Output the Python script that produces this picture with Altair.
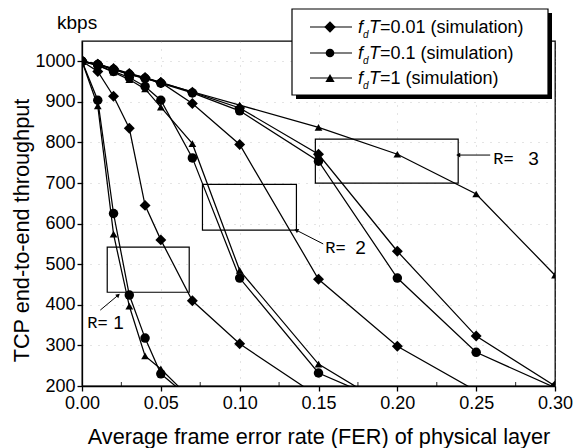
import altair as alt
import pandas as pd

# ---------------- data ----------------
X_FULL = [0, 0.01, 0.02, 0.03, 0.04, 0.05, 0.07, 0.10, 0.15, 0.20, 0.25, 0.30]

R1_D = [1000, 975, 914, 835, 645, 560, 410, 304, 174]
R1_C = [1000, 904, 625, 424, 318, 230, 165]
R1_T = [1000, 890, 574, 397, 274, 242, 165]
R2_D = [1000, 993, 980, 968, 958, 948, 896, 795, 463, 298, 188]
R2_C = [1000, 990, 975, 960, 938, 904, 762, 466, 232, 148]
R2_T = [1000, 990, 973, 955, 932, 887, 797, 485, 254, 137]
R3_D = [1000, 993, 982, 970, 960, 948, 924, 885, 771, 532, 323, 200]
R3_C = [1000, 992, 980, 968, 958, 946, 922, 878, 754, 466, 283, 196]
R3_T = [1000, 993, 981, 969, 959, 947, 925, 892, 837, 771, 673, 473]

SERIES = [
    ("1", "0.01", R1_D), ("1", "0.1", R1_C), ("1", "1", R1_T),
    ("2", "0.01", R2_D), ("2", "0.1", R2_C), ("2", "1", R2_T),
    ("3", "0.01", R3_D), ("3", "0.1", R3_C), ("3", "1", R3_T),
]
FDT = ["0.01", "0.1", "1"]
SHAPES = ["diamond", "circle", "triangle-up"]
MARK_SIZES = [120, 60, 75]

BOX_X1 = [0.016, 0.0764, 0.148]
BOX_X2 = [0.068, 0.136, 0.2386]
BOX_Y1 = [542, 697, 808]
BOX_Y2 = [431, 584, 700]

LBL_R_X = [0.0034, 0.1543, 0.2609]
LBL_NUM_X = [0.0198, 0.1733, 0.283]
LBL_Y = [355, 540, 759]
LBL_NUM = ["1", "2", "3"]

ARR_X1 = [0.0116, 0.153, 0.2589]
ARR_Y1 = [387, 550, 769]
ARR_X2 = [0.0230, 0.1359, 0.2386]
ARR_Y2 = [424, 584, 769]
ARR_ANG = [49, 298, 270]

X_TICKS = [0, 0.05, 0.10, 0.15, 0.20, 0.25, 0.30]
X_MINOR = [0.025, 0.075, 0.125, 0.175, 0.225, 0.275]
Y_TICKS = [200, 300, 400, 500, 600, 700, 800, 900, 1000]

LEG_LABELS = ["=0.01 (simulation)", "=0.1 (simulation)", "=1 (simulation)"]

# ---------------- tables ----------------
rows = []
for r, f, ys in SERIES:
    for x, y in zip(X_FULL, ys):
        rows.append({"x": x, "y": y, "R": r, "fdT": f, "key": r + "_" + f})
df = pd.DataFrame(rows)

boxes = pd.DataFrame({"x1": BOX_X1, "x2": BOX_X2, "y1": BOX_Y1, "y2": BOX_Y2})
labels = pd.DataFrame({"xr": LBL_R_X, "xn": LBL_NUM_X, "y": LBL_Y, "num": LBL_NUM})
arrows = pd.DataFrame({"x1": ARR_X1, "y1": ARR_Y1, "x2": ARR_X2, "y2": ARR_Y2, "ang": ARR_ANG})
minor = pd.DataFrame({"x": X_MINOR})
one = pd.DataFrame({"k": [0]})

FONT = "Liberation Sans"

xs = alt.Scale(domain=[0, 0.30], nice=False, zero=False, padding=0)
ysc = alt.Scale(domain=[200, 1050], nice=False, zero=False, padding=0)

x_axis = alt.Axis(values=X_TICKS, format=".2f", grid=True, labelFlush=False,
                  title="Average frame error rate (FER) of physical layer",
                  titleY=57, titleBaseline="alphabetic", labelPadding=3)
y_axis = alt.Axis(values=Y_TICKS, format="d", grid=True, labelFlush=False,
                  title="TCP end-to-end throughput",
                  titleX=-54, titleY=189, titleAngle=270, titleAlign="center",
                  titleBaseline="alphabetic", labelPadding=2)

X = alt.X("x:Q", scale=xs, axis=x_axis)
Y = alt.Y("y:Q", scale=ysc, axis=y_axis)

lines = alt.Chart(df).mark_line(color="black", strokeWidth=1.25, clip=True).encode(
    x=X, y=Y, detail="key:N", order="x:Q")

points = alt.Chart(df).transform_filter("datum.y >= 200").mark_point(
    filled=True, color="black", opacity=1, clip=True).encode(
    x=alt.X("x:Q", scale=xs), y=alt.Y("y:Q", scale=ysc),
    shape=alt.Shape("fdT:N", scale=alt.Scale(domain=FDT, range=SHAPES), legend=None),
    size=alt.Size("fdT:O", scale=alt.Scale(domain=FDT, range=MARK_SIZES), legend=None),
)

box_layer = alt.Chart(boxes).mark_rect(fillOpacity=0, stroke="black", strokeWidth=1.2).encode(
    x=alt.X("x1:Q", scale=xs), x2="x2:Q", y=alt.Y("y1:Q", scale=ysc), y2="y2:Q")

lbl_r = alt.Chart(labels).mark_text(font="Liberation Mono", fontSize=17, align="left",
                                    baseline="middle", color="black").encode(
    x=alt.X("xr:Q", scale=xs), y=alt.Y("y:Q", scale=ysc), text=alt.value("R="))
lbl_n = alt.Chart(labels).mark_text(font=FONT, fontSize=19, align="left",
                                    baseline="middle", color="black").encode(
    x=alt.X("xn:Q", scale=xs), y=alt.Y("y:Q", scale=ysc), text="num:N")

arr_line = alt.Chart(arrows).mark_rule(color="black", strokeWidth=1).encode(
    x=alt.X("x1:Q", scale=xs), y=alt.Y("y1:Q", scale=ysc), x2="x2:Q", y2="y2:Q")
arr_head = alt.Chart(arrows).mark_point(shape="triangle-up", filled=True, color="black",
                                        opacity=1, size=22).encode(
    x=alt.X("x2:Q", scale=xs), y=alt.Y("y2:Q", scale=ysc),
    angle=alt.Angle("ang:Q", scale=None))

minor_ticks = alt.Chart(minor).mark_tick(color="black", thickness=1.2, size=4).encode(
    x=alt.X("x:Q", scale=xs), y=alt.value(343))

kbps = alt.Chart(one).mark_text(text="kbps", font=FONT, fontSize=19, align="left",
                                baseline="alphabetic", color="black").encode(
    x=alt.value(-25), y=alt.value(-12))

# legend (drawn by hand because of the subscript)
leg = [
    alt.Chart(one).mark_rect(color="black").encode(
        x=alt.value(214), x2=alt.value(470), y=alt.value(-28), y2=alt.value(58)),
    alt.Chart(one).mark_rect(fill="white", stroke="black", strokeWidth=1.2).encode(
        x=alt.value(210), x2=alt.value(466), y=alt.value(-32), y2=alt.value(54)),
]
ROW_Y = [-14, 12, 37]
LEG_MSIZE = [130, 75, 85]
for i in range(3):
    ry = ROW_Y[i]
    leg.append(alt.Chart(one).mark_rule(color="black", strokeWidth=1.2).encode(
        x=alt.value(228), x2=alt.value(270), y=alt.value(ry)))
    leg.append(alt.Chart(one).mark_point(shape=SHAPES[i], filled=True, color="black",
                                         opacity=1, size=LEG_MSIZE[i]).encode(
        x=alt.value(248), y=alt.value(ry)))
    leg.append(alt.Chart(one).mark_text(text="f", font=FONT, fontStyle="italic", fontSize=18,
                                        align="left", baseline="alphabetic", color="black").encode(
        x=alt.value(276), y=alt.value(ry + 6)))
    leg.append(alt.Chart(one).mark_text(text="d", font=FONT, fontStyle="italic", fontSize=10,
                                        align="left", baseline="alphabetic", color="black").encode(
        x=alt.value(281), y=alt.value(ry + 11)))
    leg.append(alt.Chart(one).mark_text(text="T", font=FONT, fontStyle="italic", fontSize=18,
                                        align="left", baseline="alphabetic", color="black").encode(
        x=alt.value(287), y=alt.value(ry + 6)))
    leg.append(alt.Chart(one).mark_text(text=LEG_LABELS[i], font=FONT, fontSize=18,
                                        align="left", baseline="alphabetic", color="black").encode(
        x=alt.value(298), y=alt.value(ry + 6)))

chart = alt.layer(lines, points, box_layer, arr_line, arr_head, lbl_r, lbl_n,
                  minor_ticks, kbps, *leg).properties(
    width=473, height=345,
    padding={"left": 82, "top": 41, "right": 19, "bottom": 62},
    autosize=alt.AutoSizeParams(type="none"),
).configure_view(stroke="black", strokeWidth=1.3).configure_axis(
    domainColor="black", domainWidth=1.3, tickColor="black", tickWidth=1.3, tickSize=5,
    labelColor="black", titleColor="black", labelFont=FONT, titleFont=FONT,
    labelFontSize=18, titleFontSize=21.7, titleFontWeight="normal",
    gridColor="#888", gridDash=[1, 7], gridOpacity=0.45, gridWidth=1,
)

chart.save("out.html", embed_options={"renderer": "svg", "actions": False})
